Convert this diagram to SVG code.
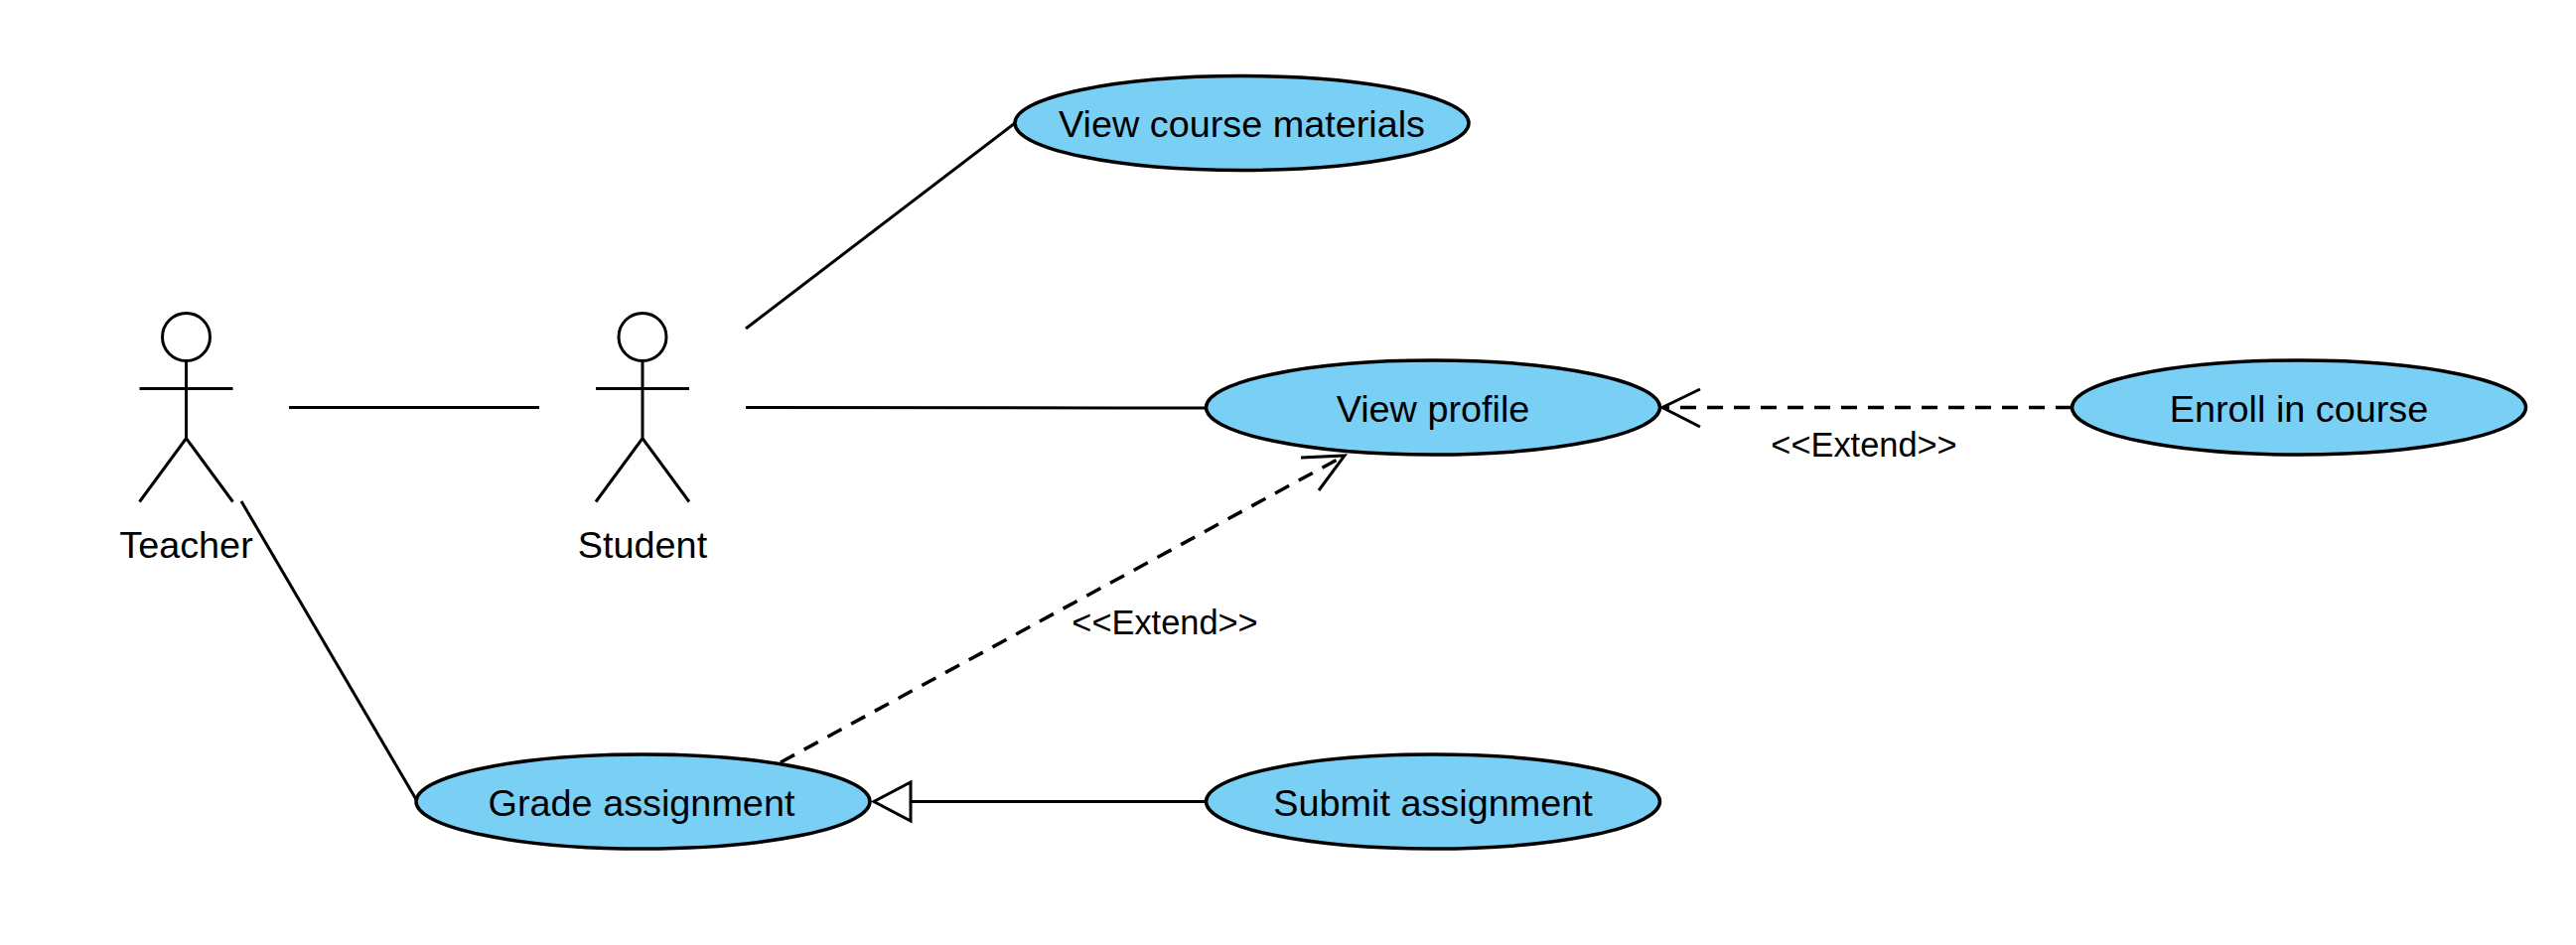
<svg xmlns="http://www.w3.org/2000/svg" width="2594" height="952" viewBox="0 0 2594 952">
<style>
text{font-family:"Liberation Sans",Arial,sans-serif;fill:#000;text-anchor:middle}
.n{font-size:37.800px}
.l{font-size:34.400px}
.uc{fill:#7acff5;stroke:#000;stroke-width:3.500}
.a{fill:none;stroke:#000;stroke-width:3}
.c{fill:none;stroke:#000;stroke-width:3}
.d{stroke-width:3.500;stroke-dasharray:16 11}
</style>
<defs>
<g id="actor"><circle class="a" cx="0" cy="-72" r="24"/><path class="a" d="M0-48V30M-47-20H47M-47 94L0 30 47 94"/></g>
</defs>
<rect width="2594" height="952" fill="#fff"/>
<g id="connectors">
<path class="c" d="M291 410.500H543"/>
<path class="c" d="M751 331L1022 124"/>
<path class="c" d="M751 410.500L1128 411H1215"/>
<path class="c" d="M243 505L420 807"/>
<path class="c" d="M1215 807.500H917"/>
<path class="c" d="M917 788V827L880 807.500Z"/>
<path class="c d" d="M2086 410.500H1674"/>
<path class="c" d="M1712 392L1674 410.500 1712 430"/>
<path class="c d" d="M786 768L1352 460"/>
<path class="c" d="M1310 461L1354 459 1328 494"/>
</g>
<g id="teacher"><use href="#actor" x="187.500" y="411.500"/><text class="n" x="187.500" y="562">Teacher</text></g>
<g id="student"><use href="#actor" x="647" y="411.500"/><text class="n" x="647" y="562">Student</text></g>
<g id="view-course-materials"><ellipse class="uc" cx="1250.500" cy="124" rx="228.500" ry="47.500"/><text class="n" x="1250.500" y="138">View course materials</text></g>
<g id="view-profile"><ellipse class="uc" cx="1443" cy="410.500" rx="228.500" ry="47.500"/><text class="n" x="1443" y="425">View profile</text></g>
<g id="enroll-in-course"><ellipse class="uc" cx="2315" cy="410.500" rx="228.500" ry="47.500"/><text class="n" x="2315" y="425">Enroll in course</text></g>
<g id="grade-assignment"><ellipse class="uc" cx="647.500" cy="807.500" rx="228.500" ry="47.500"/><text class="n" x="646" y="822">Grade assignment</text></g>
<g id="submit-assignment"><ellipse class="uc" cx="1443" cy="807.500" rx="228.500" ry="47.500"/><text class="n" x="1443" y="822">Submit assignment</text></g>
<text class="l" x="1877" y="459.500">&lt;&lt;Extend&gt;&gt;</text>
<text class="l" x="1173" y="638.500">&lt;&lt;Extend&gt;&gt;</text>
</svg>
